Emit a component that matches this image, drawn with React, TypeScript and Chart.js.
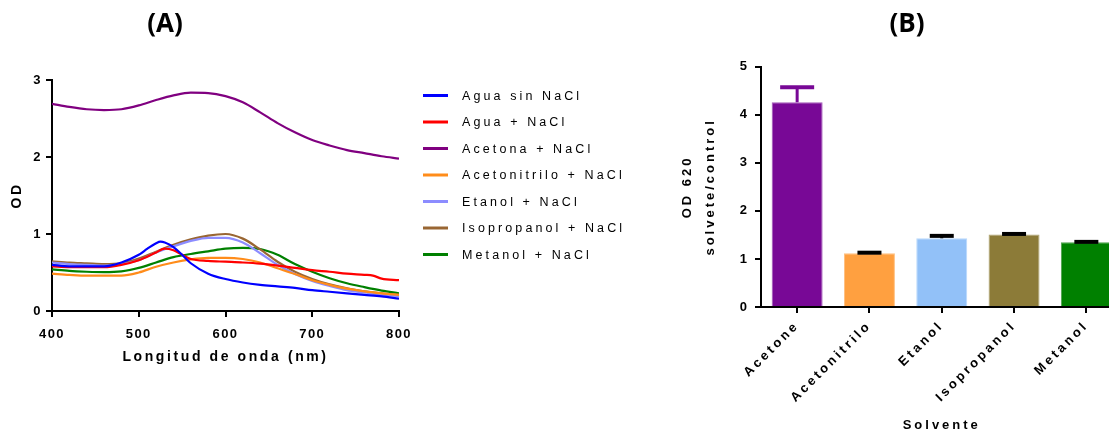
import React, { useEffect, useRef } from 'react';
import { Chart, registerables } from 'chart.js';

Chart.register(...registerables);

const FONT = '"Liberation Sans", Arial, Helvetica, sans-serif';
Chart.defaults.font.family = FONT;
Chart.defaults.color = '#000';

// ---------- Panel A: absorption spectra ----------
const wavelengths = [400, 420, 440, 460, 480, 500, 520, 540, 560, 580, 600, 620, 640, 660, 680, 700, 720, 740, 760, 780, 800];
const aguaSinWavelengths = [400, 420, 440, 460, 480, 500, 510, 520, 525, 530, 540, 550, 560, 580, 600, 620, 640, 660, 680, 700, 720, 740, 760, 780, 800];
const aguaNaClWavelengths = [400, 420, 440, 460, 480, 500, 520, 530, 540, 550, 560, 580, 600, 620, 640, 660, 680, 700, 720, 740, 760, 770, 780, 800];

const aguaSinNaCl = [0.60, 0.58, 0.58, 0.58, 0.63, 0.73, 0.81, 0.88, 0.90, 0.89, 0.83, 0.73, 0.62, 0.485, 0.415, 0.37, 0.34, 0.32, 0.30, 0.27, 0.25, 0.23, 0.21, 0.19, 0.16];
const aguaNaCl = [0.58, 0.57, 0.57, 0.57, 0.60, 0.66, 0.76, 0.81, 0.79, 0.73, 0.675, 0.65, 0.64, 0.63, 0.615, 0.59, 0.56, 0.53, 0.51, 0.485, 0.47, 0.46, 0.42, 0.40];
const acetonaNaCl = [2.69, 2.65, 2.62, 2.61, 2.62, 2.67, 2.74, 2.80, 2.835, 2.83, 2.79, 2.71, 2.58, 2.44, 2.32, 2.22, 2.15, 2.09, 2.05, 2.01, 1.98];
const acetonitriloNaCl = [0.485, 0.47, 0.46, 0.46, 0.46, 0.50, 0.575, 0.63, 0.67, 0.69, 0.69, 0.675, 0.63, 0.555, 0.48, 0.40, 0.34, 0.29, 0.255, 0.23, 0.21];
const etanolNaCl = [0.63, 0.61, 0.60, 0.59, 0.61, 0.66, 0.76, 0.84, 0.91, 0.95, 0.95, 0.89, 0.75, 0.60, 0.48, 0.39, 0.325, 0.27, 0.24, 0.21, 0.195];
const isopropanolNaCl = [0.645, 0.63, 0.62, 0.61, 0.62, 0.68, 0.77, 0.86, 0.93, 0.98, 1.00, 0.94, 0.80, 0.64, 0.51, 0.415, 0.345, 0.295, 0.255, 0.23, 0.21];
const metanolNaCl = [0.54, 0.52, 0.51, 0.505, 0.515, 0.56, 0.63, 0.70, 0.74, 0.775, 0.81, 0.82, 0.805, 0.73, 0.61, 0.51, 0.425, 0.36, 0.31, 0.265, 0.23];

const seriesLabels = ['Agua sin NaCl', 'Agua + NaCl', 'Acetona + NaCl', 'Acetonitrilo + NaCl', 'Etanol + NaCl', 'Isopropanol + NaCl', 'Metanol + NaCl'];
const seriesX = [aguaSinWavelengths, aguaNaClWavelengths, wavelengths, wavelengths, wavelengths, wavelengths, wavelengths];
const seriesY = [aguaSinNaCl, aguaNaCl, acetonaNaCl, acetonitriloNaCl, etanolNaCl, isopropanolNaCl, metanolNaCl];
const lineColors = ['#0000FF', '#FF0000', '#800080', '#FF8C1A', '#8C8CFF', '#996633', '#008000'];

// ---------- Panel B: bar chart ----------
const solventes = ['Acetone', 'Acetonitrilo', 'Etanol', 'Isopropanol', 'Metanol'];
const od620Ratio = [4.26, 1.12, 1.43, 1.51, 1.345];
const od620Error = [0.31, 0.01, 0.05, 0.01, 0.01];
const barColors = ['#780896', '#FFA040', '#92C1F8', '#8C7B38', '#008000'];
const barBorderColors = ['#A459B8', '#FFC080', '#B8D8FB', '#B0A470', '#4DA04D'];
const errorColors = ['#780896', '#000000', '#000000', '#000000', '#000000'];

const letterSpacingPlugin = {
  id: 'letterSpacing',
  beforeDraw(chart: any, _a: any, opts: any) {
    const ctx = chart.ctx;
    const tickSp = opts.ticks || '0px';
    const titleSp = opts.title || '0px';
    ctx.letterSpacing = tickSp;
    for (const s of Object.values(chart.scales) as any[]) {
      if (!s.__lsPatched) {
        const orig = s.drawTitle;
        s.drawTitle = function (...args: any[]) {
          const prev = ctx.letterSpacing;
          ctx.letterSpacing = titleSp;
          orig.apply(this, args);
          ctx.letterSpacing = prev;
        };
        s.__lsPatched = true;
      }
    }
  },
  afterDraw(chart: any) {
    chart.ctx.letterSpacing = '0px';
  },
};

const panelLabelPlugin = {
  id: 'panelLabel',
  afterDraw(chart: any, _a: any, opts: any) {
    if (!opts || !opts.text) return;
    const ctx = chart.ctx;
    ctx.save();
    ctx.letterSpacing = '0px';
    ctx.font = `bold 26px "Open Sans", ${FONT}`;
    ctx.fillStyle = '#000';
    ctx.textAlign = 'center';
    ctx.textBaseline = 'middle';
    ctx.fillText(opts.text, opts.x, opts.y);
    ctx.restore();
  },
};

const lineLegendPlugin = {
  id: 'lineLegend',
  afterDraw(chart: any, _a: any, opts: any) {
    if (!opts || !opts.display) return;
    const ctx = chart.ctx;
    ctx.save();
    ctx.letterSpacing = opts.spacing;
    ctx.font = `12.5px ${FONT}`;
    ctx.textBaseline = 'middle';
    ctx.textAlign = 'left';
    ctx.fillStyle = '#000';
    chart.data.datasets.forEach((ds: any, i: number) => {
      const y = opts.top + i * opts.step;
      ctx.strokeStyle = ds.borderColor;
      ctx.lineWidth = 3;
      ctx.beginPath();
      ctx.moveTo(opts.x, y);
      ctx.lineTo(opts.x + opts.lineLength, y);
      ctx.stroke();
      ctx.fillText(ds.label, opts.textX, y + 1);
    });
    ctx.restore();
  },
};

const errorBarPlugin = {
  id: 'errorBars',
  afterDatasetsDraw(chart: any, _a: any, opts: any) {
    if (!opts || !opts.errors) return;
    const ctx = chart.ctx;
    const yScale = chart.scales.y;
    const meta = chart.getDatasetMeta(0);
    const values = chart.data.datasets[0].data;
    ctx.save();
    meta.data.forEach((bar: any, i: number) => {
      const top = yScale.getPixelForValue(values[i] + opts.errors[i]);
      const color = opts.colors[i];
      const capW = i === 0 ? 34 : 24;
      ctx.strokeStyle = color;
      ctx.lineWidth = 3;
      ctx.beginPath();
      ctx.moveTo(bar.x, bar.y);
      ctx.lineTo(bar.x, top);
      ctx.stroke();
      ctx.lineWidth = 4;
      ctx.beginPath();
      ctx.moveTo(bar.x - capW / 2, top);
      ctx.lineTo(bar.x + capW / 2, top);
      ctx.stroke();
    });
    ctx.restore();
  },
};

function leftConfig(): any {
  return {
    type: 'line',
    data: {
      datasets: seriesLabels.map((label, i) => ({
        label,
        data: seriesX[i].map((x, j) => ({ x, y: seriesY[i][j] })),
        borderColor: lineColors[i],
        backgroundColor: lineColors[i],
        borderWidth: 2.2,
        pointRadius: 0,
        fill: false,
        cubicInterpolationMode: 'monotone',
      })),
    },
    options: {
      responsive: false,
      animation: false,
      layout: { padding: { left: 0, top: 80, right: 261, bottom: 0 } },
      plugins: {
        legend: { display: false },
        tooltip: { enabled: false },
        letterSpacing: { ticks: '1.5px', title: '2.6px' },
        lineLegend: { display: true, x: 423, lineLength: 25, textX: 462, top: 95.5, step: 26.5, spacing: '3.1px' },
        panelLabel: { text: '(A)', x: 165, y: 24.5 },
      },
      scales: {
        x: {
          type: 'linear',
          min: 400,
          max: 800,
          ticks: { stepSize: 100, font: { size: 13, weight: 'bold' }, color: '#000', padding: 10 },
          grid: { display: true, drawOnChartArea: false, drawTicks: true, tickLength: 6, color: '#000', lineWidth: 2 },
          border: { display: true, color: '#000', width: 2 },
          title: {
            display: true,
            text: 'Longitud de onda (nm)',
            font: { size: 14, weight: 'bold' },
            color: '#000',
            padding: { top: 0, bottom: 66.6 },
          },
          afterFit: (s: any) => { s.height = 121; },
        },
        y: {
          min: 0,
          max: 3,
          ticks: { stepSize: 1, font: { size: 13, weight: 'bold' }, color: '#000', padding: 4 },
          grid: { display: true, drawOnChartArea: false, drawTicks: true, tickLength: 6, color: '#000', lineWidth: 2 },
          border: { display: true, color: '#000', width: 2 },
          title: {
            display: true,
            text: 'OD',
            font: { size: 14, weight: 'bold' },
            color: '#000',
            padding: { top: 8.6, bottom: 0 },
          },
          afterFit: (s: any) => { s.width = 52; },
        },
      },
    },
    plugins: [letterSpacingPlugin, lineLegendPlugin, panelLabelPlugin],
  };
}

function rightConfig(): any {
  return {
    type: 'bar',
    data: {
      labels: solventes,
      datasets: [
        {
          label: 'OD 620 solvete/control',
          data: od620Ratio,
          backgroundColor: barColors,
          borderColor: barBorderColors,
          borderWidth: 1,
          barPercentage: 0.705,
          categoryPercentage: 1,
        },
      ],
    },
    options: {
      responsive: false,
      animation: false,
      layout: { padding: { left: 0, top: 66.7, right: 17.5, bottom: 0 } },
      plugins: {
        legend: { display: false },
        tooltip: { enabled: false },
        letterSpacing: { ticks: '3px', title: '3px' },
        errorBars: { errors: od620Error, colors: errorColors },
        panelLabel: { text: '(B)', x: 247, y: 24.5 },
      },
      scales: {
        x: {
          type: 'category',
          offset: true,
          ticks: {
            font: { size: 13, weight: 'bold' },
            color: '#000',
            minRotation: 45,
            maxRotation: 45,
            autoSkip: false,
            padding: 5,
          },
          grid: { display: true, offset: false, drawOnChartArea: false, drawTicks: true, tickLength: 6, color: '#000', lineWidth: 2 },
          border: { display: true, color: '#000', width: 2 },
          title: {
            display: true,
            text: 'Solvente',
            font: { size: 13, weight: 'bold' },
            color: '#000',
            padding: { top: 0, bottom: -1 },
          },
          afterFit: (s: any) => { s.height = 125; },
        },
        y: {
          min: 0,
          max: 5,
          ticks: { stepSize: 1, font: { size: 13, weight: 'bold' }, color: '#000', padding: 5 },
          grid: { display: true, drawOnChartArea: false, drawTicks: true, tickLength: 6, color: '#000', lineWidth: 2 },
          border: { display: true, color: '#000', width: 2 },
          title: {
            display: true,
            text: ['OD 620', 'solvete/control'],
            font: { size: 13, weight: 'bold', lineHeight: 1.8 },
            color: '#000',
            padding: { top: 15.8, bottom: 0 },
          },
          afterFit: (s: any) => { s.width = 101; },
        },
      },
    },
    plugins: [letterSpacingPlugin, errorBarPlugin, panelLabelPlugin],
  };
}

export default function App() {
  const leftRef = useRef<HTMLCanvasElement>(null);
  const rightRef = useRef<HTMLCanvasElement>(null);

  useEffect(() => {
    const left = new Chart(leftRef.current as HTMLCanvasElement, leftConfig());
    const right = new Chart(rightRef.current as HTMLCanvasElement, rightConfig());
    return () => {
      left.destroy();
      right.destroy();
    };
  }, []);

  return (
    <div style={{ position: 'fixed', left: 0, top: 0, width: 1109, height: 432, overflow: 'hidden', background: '#fff' }}>
      <canvas ref={leftRef} width={660} height={432} style={{ position: 'absolute', left: 0, top: 0, width: 660, height: 432 }} />
      <canvas ref={rightRef} width={480} height={432} style={{ position: 'absolute', left: 660, top: 0, width: 480, height: 432 }} />
    </div>
  );
}
